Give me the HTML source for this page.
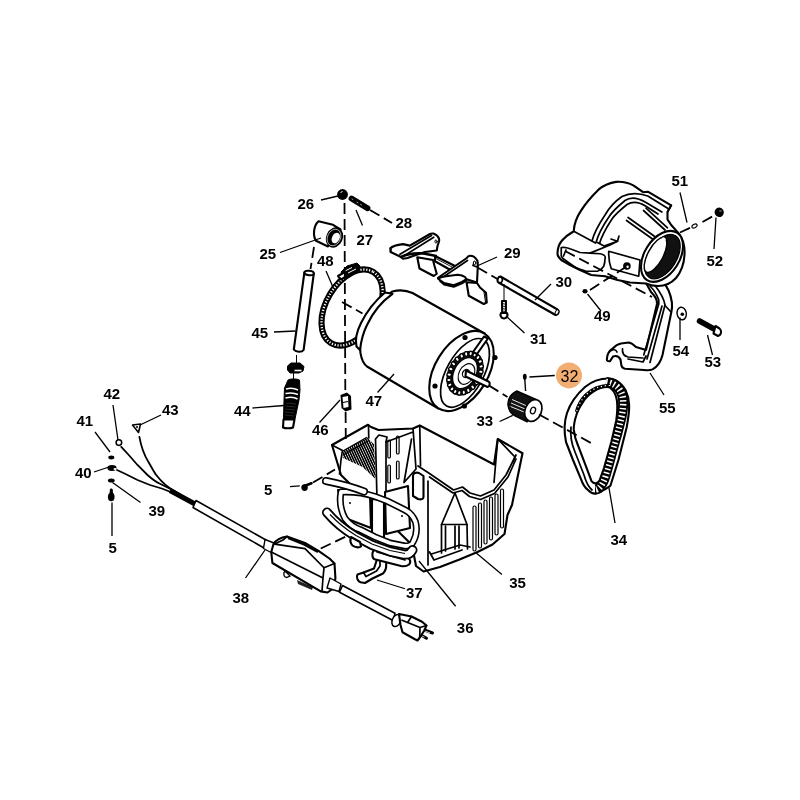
<!DOCTYPE html>
<html><head><meta charset="utf-8"><title>Parts diagram</title>
<style>
html,body{margin:0;padding:0;background:#fff;width:800px;height:800px;overflow:hidden}
svg{display:block}
.lbl{filter:grayscale(1)}
.lbl text{font-family:"Liberation Sans",sans-serif;font-weight:bold;font-size:15px;fill:#000}
.ld{stroke:#000;stroke-width:1.3;fill:none}
.ds{stroke:#000;stroke-width:1.8;fill:none;stroke-dasharray:11 5}
.o{stroke:#000;stroke-width:2.1;fill:#fff;stroke-linejoin:round;stroke-linecap:round}
.l{stroke:#000;stroke-width:1.7;fill:none;stroke-linejoin:round;stroke-linecap:round}
.t{stroke:#000;stroke-width:1;fill:none}
.k{fill:#000;stroke:#000;stroke-width:1}
</style></head><body>
<svg width="800" height="800" viewBox="0 0 800 800">
<rect width="800" height="800" fill="#fff"/>
<!-- 26 nut -->
<circle cx="342.5" cy="194.5" r="5.4" fill="#000"/>
<path d="M340.5 192.5 l2 -1" stroke="#fff" stroke-width="1"/>
<!-- 27 stud -->
<path d="M351.5 198.5 L367.5 208.3" stroke="#000" stroke-width="5.8" stroke-linecap="round"/>
<path d="M352 199 l0.8 0.5 M357 202.3 l1 0.6 M360.5 204.4 l1 0.6" stroke="#fff" stroke-width="0.9" stroke-linecap="round" opacity="0.7"/>
<!-- 25 bushing -->
<path class="o" d="M318.5 221.3 L333 224.8 L340.5 229.5 L328 246.5 L316 240.8 C312.8 236 313.3 226 318.5 221.3 Z"/>
<ellipse cx="334.5" cy="237.5" rx="8.3" ry="10.5" transform="rotate(25 334.5 237.5)" fill="#000"/>
<ellipse cx="335.8" cy="238" rx="3.8" ry="5.6" transform="rotate(25 335.8 238)" fill="#fff"/>
<ellipse cx="334" cy="237.5" rx="6.5" ry="8.6" transform="rotate(25 334 237.5)" fill="none" stroke="#fff" stroke-width="0.6"/>
<!-- 45 rod -->
<path class="o" d="M304.4 272.5 L313.8 273.5 L303.6 350 C302 352.5 296 352.5 293.8 349.5 Z"/>
<ellipse cx="309.1" cy="273" rx="4.7" ry="2.2" class="o" transform="rotate(6 309.1 273)" stroke-width="1.5"/>
<!-- nut under rod -->
<path class="k" d="M287.5 366 L291 363 L300 363 L304 366.5 L303 371 L299 373 L290 373 L287.5 370 Z"/>
<path d="M294.5 370.5 L301.5 370.5" stroke="#fff" stroke-width="1.6"/>
<path class="t" d="M296.5 355 L296.5 363 M293.5 373 L293.5 379" stroke-width="1.3"/>
<!-- 44 strain relief -->
<path class="k" d="M288 380 C290 378.5 297 378.5 299.5 380 L300 390 L299 400 L295 419 L283.5 419 L284 400 L284.5 388 Z"/>
<path d="M286 389 C290 388 295 388.5 298 390 M285.5 393.5 C290 392.5 295 393 298 394.5 M285.5 398 C290 397 295 397.5 297.5 399" stroke="#fff" stroke-width="1.5"/>
<path d="M286 403 L296 404 M285.5 406 L295.5 407 M285.5 409 L295 410 M285 412 L294.5 413 M285 415 L294 416" stroke="#444" stroke-width="0.6"/>
<path class="o" d="M283.5 419.5 L294.5 419.5 L293 427.5 C291 428.5 285 428.5 283 427.5 Z" stroke-width="1.5"/>
<!-- 46 -->
<path d="M340.5 395 L347 392.5 L351 396 L351.5 409.5 L345.5 411.5 L341.5 408 Z" fill="#000"/>
<path d="M342.5 397 L348 396 L348.5 407 L343.5 408 Z" fill="#fff"/>
<path d="M343 402.5 L348 401.5" stroke="#000" stroke-width="1.2"/>
<ellipse cx="352.1" cy="307.5" rx="41.4" ry="25.8" transform="rotate(-59.4 352.1 307.5)" fill="none" stroke="#000" stroke-width="6.2"/>
<ellipse cx="352.1" cy="307.5" rx="41.4" ry="25.8" transform="rotate(-59.4 352.1 307.5)" fill="none" stroke="#fff" stroke-width="2.3" stroke-dasharray="1.2 1.7"/>
<path class="k" d="M341 272 L347 266 L357 263 L360 266 L359 271 L350 276 L344 278 Z"/>
<path d="M345 271 L352 267.5 M348 273 L356 269" stroke="#fff" stroke-width="1"/>
<path class="o" d="M338 276 L344 272.5 L347 276 L341 279.5 Z" stroke-width="1.2"/>
<path class="o" d="M392.5 291.4 C400 289.5 406 290 412.5 293 L484.6 333.5 L438.4 408.5 L367 366.5 C360 361 358.5 346 361 335 C364 318 376 302 392.5 291.4 Z"/>
<path class="o" d="M385 292.5 C376 300 367 311 361 323 C357 331 355 340 356.5 346.5 L360 350 C361 341 363 333 367 325 C372 314 381 302 392.5 293.8 Z" stroke-width="1.6"/>
<ellipse cx="461.5" cy="371.0" rx="44" ry="26.5" transform="rotate(-58.4 461.5 371.0)" class="o"/>
<ellipse cx="465" cy="372.9" rx="37.9" ry="18.4" transform="rotate(-60.9 465 372.9)" class="l"/>
<ellipse cx="465" cy="373.2" rx="23.8" ry="17" transform="rotate(-62 465 373.2)" fill="#111"/>
<ellipse cx="474.8" cy="354.8" rx="2.3" ry="1.7" fill="#fff" stroke="#000" stroke-width="1.3" transform="rotate(-62 474.8 354.8)"/>
<ellipse cx="478.0" cy="357.5" rx="2.3" ry="1.7" fill="#fff" stroke="#000" stroke-width="1.3" transform="rotate(-46 478.0 357.5)"/>
<ellipse cx="480.2" cy="361.5" rx="2.3" ry="1.7" fill="#fff" stroke="#000" stroke-width="1.3" transform="rotate(-29 480.2 361.5)"/>
<ellipse cx="481.1" cy="366.4" rx="2.3" ry="1.7" fill="#fff" stroke="#000" stroke-width="1.3" transform="rotate(-13 481.1 366.4)"/>
<ellipse cx="480.8" cy="371.8" rx="2.3" ry="1.7" fill="#fff" stroke="#000" stroke-width="1.3" transform="rotate(3 480.8 371.8)"/>
<ellipse cx="479.1" cy="377.4" rx="2.3" ry="1.7" fill="#fff" stroke="#000" stroke-width="1.3" transform="rotate(20 479.1 377.4)"/>
<ellipse cx="476.4" cy="382.6" rx="2.3" ry="1.7" fill="#fff" stroke="#000" stroke-width="1.3" transform="rotate(36 476.4 382.6)"/>
<ellipse cx="472.7" cy="387.1" rx="2.3" ry="1.7" fill="#fff" stroke="#000" stroke-width="1.3" transform="rotate(53 472.7 387.1)"/>
<ellipse cx="468.3" cy="390.4" rx="2.3" ry="1.7" fill="#fff" stroke="#000" stroke-width="1.3" transform="rotate(69 468.3 390.4)"/>
<ellipse cx="463.8" cy="392.4" rx="2.3" ry="1.7" fill="#fff" stroke="#000" stroke-width="1.3" transform="rotate(85 463.8 392.4)"/>
<ellipse cx="459.3" cy="392.8" rx="2.3" ry="1.7" fill="#fff" stroke="#000" stroke-width="1.3" transform="rotate(102 459.3 392.8)"/>
<ellipse cx="455.2" cy="391.6" rx="2.3" ry="1.7" fill="#fff" stroke="#000" stroke-width="1.3" transform="rotate(118 455.2 391.6)"/>
<ellipse cx="452.0" cy="388.9" rx="2.3" ry="1.7" fill="#fff" stroke="#000" stroke-width="1.3" transform="rotate(134 452.0 388.9)"/>
<ellipse cx="449.8" cy="384.9" rx="2.3" ry="1.7" fill="#fff" stroke="#000" stroke-width="1.3" transform="rotate(151 449.8 384.9)"/>
<ellipse cx="448.9" cy="380.0" rx="2.3" ry="1.7" fill="#fff" stroke="#000" stroke-width="1.3" transform="rotate(167 448.9 380.0)"/>
<ellipse cx="449.2" cy="374.6" rx="2.3" ry="1.7" fill="#fff" stroke="#000" stroke-width="1.3" transform="rotate(183 449.2 374.6)"/>
<ellipse cx="450.9" cy="369.0" rx="2.3" ry="1.7" fill="#fff" stroke="#000" stroke-width="1.3" transform="rotate(200 450.9 369.0)"/>
<ellipse cx="453.6" cy="363.8" rx="2.3" ry="1.7" fill="#fff" stroke="#000" stroke-width="1.3" transform="rotate(216 453.6 363.8)"/>
<ellipse cx="457.3" cy="359.3" rx="2.3" ry="1.7" fill="#fff" stroke="#000" stroke-width="1.3" transform="rotate(233 457.3 359.3)"/>
<ellipse cx="461.7" cy="356.0" rx="2.3" ry="1.7" fill="#fff" stroke="#000" stroke-width="1.3" transform="rotate(249 461.7 356.0)"/>
<ellipse cx="466.2" cy="354.0" rx="2.3" ry="1.7" fill="#fff" stroke="#000" stroke-width="1.3" transform="rotate(265 466.2 354.0)"/>
<ellipse cx="470.7" cy="353.6" rx="2.3" ry="1.7" fill="#fff" stroke="#000" stroke-width="1.3" transform="rotate(282 470.7 353.6)"/>
<ellipse cx="465" cy="373.2" rx="16.5" ry="11" transform="rotate(-62 465 373.2)" fill="#fff" stroke="#000" stroke-width="1.3"/>
<ellipse cx="466.5" cy="374" rx="11" ry="7.5" transform="rotate(-62 466.5 374)" fill="none" stroke="#000" stroke-width="1.1"/>
<ellipse cx="466" cy="373.5" rx="4.2" ry="3.4" transform="rotate(-62 466 373.5)" fill="#fff" stroke="#000" stroke-width="1.3"/>
<path class="o" d="M466 370.5 L488.5 381.5 C490.5 382.5 490 386.5 487.5 387 L465.5 376.5 Z" stroke-width="1.3"/>
<path class="o" d="M473 352 L484 336.5 L488 338.5 L477 354 Z" stroke-width="1.2"/>
<circle cx="465" cy="337.5" r="2.6" fill="#000"/>
<circle cx="495" cy="357.5" r="2.6" fill="#000"/>
<circle cx="435" cy="386" r="2.6" fill="#000"/>
<circle cx="464.4" cy="406" r="2.6" fill="#000"/>
<!-- 29 bracket -->
<g class="l" stroke-width="1.3">
<path class="o" stroke-width="1.4" d="M417.25 257.25 L419.5 268.5 L433.75 276 L436.75 273.75 L434.5 266 L433 260 Z"/>
<path class="o" stroke-width="1.5" d="M390.25 248.25 C392 246.5 396 245 403 244.1 L409.75 245.6 L430 234 C431 233.5 432 233.3 433.3 233.6 C435 234.2 436.8 235 437.8 236.5 C439 238 439.4 240 439 241.5 L437.5 246 L436.75 250.5 L425 252 L413 256 L407.5 258 L403 258.75 L400 256.5 L390.6 252 Z"/>
<path d="M400 254.25 L431.5 235.5 M403 256.5 L433.75 237.2 M390.6 252 L391 249"/>
<path d="M401 256.8 C406 254.5 412 253 420 253.2 C426 253.6 430 254.5 436 256" stroke-width="2.4"/>
<ellipse cx="436" cy="241.5" rx="1.1" ry="1.6" fill="#fff" stroke="#000" stroke-width="1"/>
<path class="o" stroke-width="1.4" d="M435 256 L457.5 267.25 L456 271.5 L452.25 271 L435 261.25 Z"/>
<path d="M436 258.6 L455 268.6" stroke-width="0.9"/>
<path class="o" stroke-width="1.4" d="M466.5 282.25 L468.75 295.75 L483.75 304 L486.75 302.5 L486 292.75 L480 287.5 L477 283 Z"/>
<path d="M484 292 L485.5 302" stroke-width="1"/>
<path class="o" stroke-width="1.4" d="M438 277.75 L466.5 258.25 C467.5 256.5 469 255.8 470.25 255.8 C472.5 255.8 474.5 256.8 475.5 258.25 C477 259.5 477.8 261 477.75 262.5 L477.75 267.25 L477 282.5 L466.5 279.25 Z"/>
<path d="M441 278.5 L467.5 260.5 M474.5 261.5 L473 265.5 L477.75 267.25"/>
<ellipse cx="474.6" cy="263" rx="1.3" ry="1.7" fill="#fff" stroke="#000" stroke-width="1"/>
<path class="o" stroke-width="1.5" d="M438 278.5 C441 277 443.5 276.5 446.25 276.25 L457.5 274.75 C461 275 463.5 275.8 465 277 L466.5 279.25 L462 282 L453.75 285.25 L444 283 L438.75 279.25 Z"/>
<path d="M440 281 L444 284.5 L453.75 286.8 L462 283.5 L466.5 280.5" stroke-width="1.8"/>
</g>
<!-- 30 pin -->
<path class="o" d="M500.5 276.5 L557.5 309.5 C559.5 311 558.5 315.5 555.5 315 L498.5 282.5 C496.5 281 498 276 500.5 276.5 Z" stroke-width="1.4"/>
<ellipse cx="557" cy="312.3" rx="1.6" ry="2.6" transform="rotate(30 557 312.3)" fill="#fff" stroke="#000" stroke-width="1"/>
<path class="l" d="M501 277 C503 278.5 503 281.5 500.5 283" stroke-width="1.1"/>
<!-- 31 screw -->
<path class="t" d="M504 284 L504 301" stroke-width="1.2"/>
<path class="o" d="M502 301 L506 301 L505.8 313 L502.2 313 Z" stroke-width="1.2"/>
<path d="M502.3 303.5 l3.4 0.8 M502.3 306 l3.4 0.8 M502.3 308.5 l3.4 0.8 M502.3 311 l3.4 0.8" stroke="#000" stroke-width="0.8"/>
<path class="o" d="M501 313 L507 313 C508 315 507.5 318 504 318.5 C500.5 318 500 315 501 313 Z" stroke-width="1.2"/>
<!-- 32 screw -->
<ellipse cx="524.8" cy="376.8" rx="1.9" ry="3.1" fill="#000"/>
<path d="M524.8 379.5 L525.6 391" stroke="#000" stroke-width="1.4"/>
<!-- 33 pulley -->
<path d="M517 391 C511 394 507.5 399 508 405 C508.5 410 511 413.5 514.6 415.6 L527 421.8 L533 410 L536 399.5 Z" fill="#111" stroke="#000" stroke-width="1.5"/>
<path d="M512 399.5 L528 406.5 M511 403 L527.5 410 M510.5 406.5 L526.5 413" stroke="#fff" stroke-width="0.9"/>
<ellipse cx="533.3" cy="410.5" rx="8.2" ry="11.3" transform="rotate(22 533.3 410.5)" fill="#fff" stroke="#000" stroke-width="1.7"/>
<ellipse cx="533" cy="410.5" rx="2.4" ry="3.4" transform="rotate(22 533 410.5)" fill="#fff" stroke="#000" stroke-width="1.3"/>
<!-- 55 arm -->
<path class="o" d="M646 283 L662.5 281.5 C667 286 670.5 293 671.9 302.5 C672.3 306 672 309.5 671.25 312.5 L662.5 355 C661 361 657 367 652.5 369.4 C650 370.5 647 370.5 644 370 L625 368.75 C622.5 368 621.2 366.5 621.2 364 L620.5 359.5 C619 356.5 616 355.5 613 356.5 L610 361.25 C608 361.5 606.5 361 606.9 359 C607 355 609 351 612.5 348.75 C615 346 618 344 621 343.5 L628.75 342.5 C632 343 634 345 636 347 L646 350 L657 304 C657.5 300 655 296 651 292 Z"/>
<path class="l" d="M650 286 C654 290 657 295 658.75 300 L658.75 304 L643.75 355 M655 285.6 C660 292 664 299 665 305 L650 362.5 M662 306 L647 359 M646 356 L643 362 L628 359 M622.5 348.75 C622 353 624 356 628 357 L643 358" stroke-width="1.2"/>
<path class="l" d="M611 350.5 C613 349 616 349.5 617 352 M665 305.5 L671 312" stroke-width="1.1"/>
<!-- 55 housing hood -->
<path class="o" d="M557.5 253.75 C557.5 249 559 244 562 240.5 C565 237 569 234 573.75 231.25 C574 226 576 218 581.2 210.4 C585 204 590 198 598.7 189.4 C603 186 609 183 616.2 181.9 C622 181.5 628 182.5 633.7 185.6 L643.1 192.2 L647.8 191.7 L671.2 205.3 L667.5 211.9 L667.5 219.4 L671.2 225 L678.7 233.4 C683 239 685 247 684.5 255 C684 264 681 272 676 278 C671 283.5 665 286 658 286 C653 286 649 285 646 283.5 L630 282.5 L617.5 280 L605 276.25 L591.25 275 L580 270 L570 265 L561.25 260 C559 258 557.5 256 557.5 253.75 Z"/>
<g class="l" stroke-width="1.25">
<path d="M573.75 231.25 L595.5 243"/>
<path d="M592 241 C594 233 599 224 605 215 C609 208 614 202 622 196.5 C630 192.5 638 192.5 647.8 196 L668 208.5"/>
<path d="M596 242.5 C598 235 602 227 609.2 216.5 C612 212 616 208 625 200.5 C630 197 637 197 646 202.5 L661.9 212"/>
<path d="M599.5 243.5 C601.5 236.5 605.5 229 612 219 C615 214.5 619 211 627 204.5 C632 201.5 638 201.5 645.5 206 L658 214"/>
<path d="M628.1 217.5 L654.4 236.2 M626.5 220.5 L652.5 239 M646 208.1 L667.5 227.8 M643.5 210.5 L665 230"/>
<path d="M597.5 242.5 L604 246 L617.5 241.25 M611 239 L617.5 241.25 L619 236"/>
<path d="M561.25 247.5 C564 247 567 247.5 570 248.75 L580 252.5 L590 253.1 L600 253.75 C604 254.5 606 256 605 258.75 C605 262 604.5 264 603.75 266.25 C602 269 600 270.5 597.5 271.25 L586.25 271.25 C581 270 577 268.5 573.75 266.25 L565 260 C562 258 561 256.5 561.25 255 Z"/>
<path d="M566 250 L563.5 256 M590 253.1 L610 245 L617.5 241.25"/>
<path d="M608.75 251.25 L640 260 L638.75 276.25 L611.25 268.75 C609.5 264 608.5 258 608.75 251.25 Z"/>
<path d="M671.2 205.3 L667.5 211.9"/>
</g>
<ellipse cx="662" cy="256.4" rx="28" ry="17.5" transform="rotate(-57.7 662 256.4)" class="o"/>
<ellipse cx="662.4" cy="256.6" rx="24.6" ry="14.2" transform="rotate(-57.7 662.4 256.6)" fill="#111" stroke="#000" stroke-width="1.2"/>
<ellipse cx="655.5" cy="254.9" rx="19.4" ry="7.6" transform="rotate(-62 655.5 254.9)" fill="#fff" stroke="#000" stroke-width="1.4"/>
<ellipse cx="664" cy="238.8" rx="2" ry="1.2" transform="rotate(30 664 238.8)" fill="#fff"/>
<circle cx="626.9" cy="266" r="3.8" fill="#000"/>
<circle cx="627.6" cy="266.8" r="1.2" fill="#fff"/>
<!-- 49 -->
<ellipse cx="585" cy="291.2" rx="2.6" ry="2.2" fill="#000"/>
<!-- 51 -->
<ellipse cx="694.5" cy="226" rx="2.8" ry="1.7" transform="rotate(-30 694.5 226)" fill="#fff" stroke="#000" stroke-width="1.1"/>
<!-- 52 -->
<ellipse cx="719.2" cy="212.3" rx="4.6" ry="4.8" transform="rotate(-30 719.2 212.3)" fill="#000"/>
<ellipse cx="720.5" cy="211" rx="1.5" ry="1" fill="#555"/>
<!-- 54 -->
<ellipse cx="681.7" cy="313.5" rx="4.6" ry="6.3" transform="rotate(-10 681.7 313.5)" fill="#fff" stroke="#000" stroke-width="1.4"/>
<circle cx="682.3" cy="314.3" r="1.8" fill="#000"/>
<!-- 53 -->
<path d="M699.5 321 L715 329.5" stroke="#000" stroke-width="5.5" stroke-linecap="round"/>
<path class="o" d="M715.5 326 L719.5 328.5 C722 330.5 721.5 335 718 336 L713.5 333.5 Z" stroke-width="1.3"/>
<!-- 34 belt -->
<path class="o" d="M608.8 378.5 C600 378.5 592 381 585 387 C576 395 570 404 567 413 C564 422 564 432 566 442 L573 460 L581.1 479.3 C583 485 585.5 488 588 490 C591 493 593.5 494 596 493.5 C599 493 602 491.5 604.5 489.5 C607 488 609 487 610.4 485.8 L618.5 459.8 L626.7 427.3 C628 420 629.5 412 629.1 404.5 C628.8 398 627.5 394 625.5 390 C623 386 619.5 382.5 616 380.5 C613.5 379 611 378.5 608.8 378.5 Z"/>
<path id="tb" d="M606 382 C610 382.5 614 384 617.5 387 C620.5 390 622.5 394 623 399 C623.5 404 623 410 621.5 417 L617.5 433 L613.5 447 L609.5 462 L605.5 476 C604 481 602 485 599.5 487.5 C598 489 596.5 489.5 595 489.5" fill="none" stroke="#000" stroke-width="10"/>
<path d="M606 382 C610 382.5 614 384 617.5 387 C620.5 390 622.5 394 623 399 C623.5 404 623 410 621.5 417 L617.5 433 L613.5 447 L609.5 462 L605.5 476 C604 481 602 485 599.5 487.5 C598 489 596.5 489.5 595 489.5" fill="none" stroke="#fff" stroke-width="6.5" stroke-dasharray="1.5 2.4"/>
<path class="o" d="M607.5 387 C603 387 598 388.5 594.1 391 C588 395 584.5 399 582.8 402.3 C579 408 577 412 576.3 415.3 C574.5 421 573.5 425 573.8 429.9 C574.5 436 576 441 577.9 445.2 L586 466.3 L591.5 481.2 C593 483 594.5 483.5 595.8 483.3 C597.5 483 598.5 482 599.5 480.6 L604 468 L611.5 441.3 L616.2 420.7 C617.3 413 617.6 406 617 401 C616.2 396 614.5 392 612.3 389.8 C610.8 388 609.2 387 607.5 387 Z" stroke-width="1.4"/>
<path d="M610 385.5 C600 385.5 592 389 586 395 C581 400 578 406 576.5 412" fill="none" stroke="#000" stroke-width="3.4"/>
<path d="M610 385.5 C600 385.5 592 389 586 395 C581 400 578 406 576.5 412" fill="none" stroke="#fff" stroke-width="1.2" stroke-dasharray="1.2 2.8"/>
<path class="l" d="M571 427 C570 436 572 445 575 452 L584 475 C586 482 588.5 487 592 490" stroke-width="1"/>
<!-- 35 base shell -->
<path class="o" d="M332 445 L368 424.75 L371 427 L378.5 430 L413 428.5 L419.75 425.5 L494 464.5 L497.75 439 L522.5 453.25 L518 475 L512 505 L507.5 515 L504.5 534 L492.5 544.5 L477.5 552 L459.5 559.5 L440 567 L423.5 571.5 L416 566 L412 545 L341 475 Z"/>
<g class="l" stroke-width="1.3">
<!-- back wall -->
<path d="M419.75 425.5 L420.5 466 M497.75 439 L494 482.5 M497.75 439 L515 457 L513 462"/>
<path d="M418 466 L429.5 473.5 L453.5 490 L462.5 487 L470 493 L480.5 496 L494 490 L506 475 L513.5 460 L516 455"/>
<path d="M429.5 477 L453 493 L462 490.5 L469.5 496.5 L480.5 499.5 L494.5 493.5 L508 477 L516 459"/>
<!-- triangle -->
<path d="M455 493 L441.5 524.5 L467 524.5 Z"/>
<path d="M441.5 524.5 L441.5 553 M445.5 526 L445.5 551 M455 526 L455 549 M459 526 L459 548 M467 524.5 L467.5 549"/>
<path d="M428 481 L428 565 M431.5 554 L460 545 L470 547 M434 560 L462 550 M429.5 552 L434 560"/>
<!-- left compartment -->
<path d="M332 445 L342.5 450.4 L341 460 L339.5 474 M368.5 425 L368.75 438"/>
<!-- post -->
<path d="M375.5 439 L377 500 M386 442 L386 500 M375.5 439 L379 435 L387 437 L386 442"/>
<!-- slotted panel -->
<path d="M386 442 L413 432 M413 428.5 L416 469 M411.5 439 L404 482.5 M416 469 L404 482.5"/>
</g>
<!-- slots -->
<g fill="none" stroke="#000" stroke-width="1.2">
<rect x="387.8" y="440" width="2.6" height="18" rx="1.3"/>
<rect x="396.5" y="436" width="2.6" height="18" rx="1.3"/>
<rect x="387.8" y="465" width="2.6" height="18" rx="1.3"/>
<rect x="396.5" y="461" width="2.6" height="18" rx="1.3"/>
</g>
<!-- ribs -->
<g fill="none" stroke="#000" stroke-width="1.2">
<rect x="473" y="506" width="3" height="45" rx="1.5"/>
<rect x="478.5" y="503" width="3" height="45" rx="1.5"/>
<rect x="484" y="500" width="3" height="44" rx="1.5"/>
<rect x="489.5" y="497" width="3" height="43" rx="1.5"/>
<rect x="495" y="494" width="3" height="41" rx="1.5"/>
<rect x="500.5" y="489" width="3" height="39" rx="1.5"/>
</g>
<!-- dark wire hatch -->
<defs><pattern id="hatch" width="2.2" height="2.2" patternUnits="userSpaceOnUse" patternTransform="rotate(-25)"><rect width="2.2" height="2.2" fill="#fff"/><rect width="1.6" height="2.2" fill="#000"/></pattern></defs>
<path d="M342.5 451.25 L367 437.25 L374 444.25 L375.75 479.25 L362.6 467 L343 458 Z" fill="url(#hatch)"/>
<path d="M342.5 451.25 L367 437.25 M343 455 L368 441" stroke="#000" stroke-width="1.4"/>
<!-- right-mid plate -->
<path class="o" d="M413 476 C413 473 416 472 419 473 L423.5 476 L423.5 497 C423.5 499 421 500 418 499 L413 496 Z" stroke-width="1.2"/>
<!-- plate behind handle -->
<path class="o" d="M338 490 L370 494 L371 528 L345 518 Z" stroke-width="1.2"/>
<path class="o" d="M385 492 L408 486 L410 528 L386 534 Z" stroke-width="1.2"/>
<circle cx="350" cy="503" r="1" fill="#000"/><circle cx="402" cy="516" r="1" fill="#000"/>
<!-- post -->
<path class="o" d="M372 499 L384 500 L384 540 L372 538 Z" stroke-width="1.2"/>
<!-- 37 foot -->
<path class="o" d="M357.5 574.5 C356 577 357.5 581 360.5 582.3 L365 583 L372.5 578.5 L383 573.5 C385.5 571 386.3 568 386.2 565 L385.8 548 L376.5 546.5 L376.8 560 L374 568.5 L363.5 572.5 Z" stroke-width="1.6"/>
<path class="l" d="M363.5 572.5 L366 576.5 L376.5 571 L380 566 L380 548" stroke-width="1.1"/>
<!-- 36 handle -->
<path d="M341 492 C339.5 500 340.5 510 345 518.5 C350 525 355 528 360 529.5 L375 537 L390 543 L405 546 C409 546 412 545 413 542 C417 535 417 528 415.5 522 C413 515 409 512 405 510 L387 501 L375 496.5 C365 493 352 491.5 341 492 Z" fill="none" stroke="#000" stroke-width="7" stroke-linecap="round" stroke-linejoin="round"/>
<path d="M341 492 C339.5 500 340.5 510 345 518.5 C350 525 355 528 360 529.5 L375 537 L390 543 L405 546 C409 546 412 545 413 542 C417 535 417 528 415.5 522 C413 515 409 512 405 510 L387 501 L375 496.5 C365 493 352 491.5 341 492 Z" fill="none" stroke="#fff" stroke-width="3.8" stroke-linecap="round" stroke-linejoin="round"/>
<path d="M326 481 C336 483 350 486 364 491.5" fill="none" stroke="#000" stroke-width="8" stroke-linecap="round" stroke-linejoin="round"/>
<path d="M326 481 C336 483 350 486 364 491.5" fill="none" stroke="#fff" stroke-width="4.8" stroke-linecap="round" stroke-linejoin="round"/>
<path class="o" d="M376 549 L406 557 C410 558 411.5 562 409 564.5 C407 566 404 566.5 401 566 L375.5 559.5 C371.5 558.5 371 551 376 549 Z"/>
<path class="l" d="M377 552 L405 560" stroke-width="1.1"/>
<path d="M327 512.5 C335 522 345 530 355 536 L372 545 L390 551.5 L404 554.5 C408 555 411 553 412.5 550" fill="none" stroke="#000" stroke-width="10" stroke-linecap="round" stroke-linejoin="round"/>
<path d="M327 512.5 C335 522 345 530 355 536 L372 545 L390 551.5 L404 554.5 C408 555 411 553 412.5 550" fill="none" stroke="#fff" stroke-width="6.4" stroke-linecap="round" stroke-linejoin="round"/>
<path d="M330 514.5 C338 523 347 530 356 535.5 L372 544 L390 550.5 L405 553.5" fill="none" stroke="#000" stroke-width="1.1"/>
<path class="o" d="M351 537 L360 542 L361 546.5 C359 548 355 547.5 352.5 545.5 C350.5 543.5 350 540 351 537 Z"/>
<!-- wires -->
<g fill="none" stroke="#000" stroke-linecap="round">
<path d="M139.4 436.9 C141 446 144 455 148.75 462.5 C152 468 154 472 156.25 475 C160 480 167 487 175 491.25 L188 499" stroke-width="1.8"/>
<path d="M121.25 446.9 L128.75 455 L137.5 465 L147.5 475 C152 479 156 482 160 483.75 L172.5 490 L188 500" stroke-width="1.8"/>
<path d="M117 470 L125 473.75 L137.5 480 L150 485 L162.5 488.75 L175 493.75 L188 501.5" stroke-width="1.8"/>
</g>
<!-- terminals -->
<circle cx="118.9" cy="442.6" r="2.8" fill="#fff" stroke="#000" stroke-width="1.5"/>
<path d="M132.5 425 L140.5 424 L138.5 432.5 Z" fill="#fff" stroke="#000" stroke-width="1.6" stroke-linejoin="round"/>
<circle cx="137" cy="427" r="1" fill="#000"/>
<!-- 41, 40, 39, 5 -->
<ellipse cx="111.3" cy="457.5" rx="3" ry="1.9" fill="#000"/>
<ellipse cx="112" cy="468.1" rx="4.6" ry="3" fill="#000"/>
<ellipse cx="115" cy="469" rx="1.5" ry="1" fill="#fff"/>
<ellipse cx="111.3" cy="480.6" rx="3.4" ry="2" fill="#000"/>
<path d="M109.8 490 C109.8 488 112.8 488 112.8 490 L113 493 C115 494 115 499 113.5 500.5 C112 501.5 110.5 501.5 109 500.5 C107.5 499 107.5 494 109.6 493 Z" fill="#000"/>
<!-- sleeve -->
<path d="M170 490.5 L195 504" stroke="#000" stroke-width="5" stroke-linecap="butt"/>
<!-- cable -->
<path d="M196 500.5 L266 540 L264 548 L193 507.5 Z" fill="#fff" stroke="#000" stroke-width="1.6" stroke-linejoin="round"/>
<path d="M265 539.5 L274 543 L272 553 L263.5 548.5 Z" fill="#fff" stroke="#000" stroke-width="1.4" stroke-linejoin="round"/>
<!-- GFCI box -->
<path d="M285 571 C283 573 283.5 577 286.5 577.5 L290 576 Z" fill="#fff" stroke="#000" stroke-width="1.3"/>
<path d="M297 580 L313 587 L312 590 L298 584 Z" fill="#222"/>
<path class="o" d="M273.5 544 C276 540 280 537.5 287 536.5 L305 543 L318.5 550.9 L329.75 558.75 L334.5 563.5 L335.4 578 L334 588 L327.5 592.5 L320.75 591.4 L272.4 563 L271.25 552 Z" stroke-width="1.9"/>
<path class="l" d="M271.25 552 L323 578 M274.6 544.1 L305 548.6 L324 567.75 L334.5 563.5 M323 578 L324 567.75 M323 578 L322 591 M287 536.5 L283 540 L274.6 544.1" stroke-width="1.2"/>
<path d="M288 538 L304 544.5 L318 552" stroke="#000" stroke-width="2.2" fill="none"/>
<!-- cable to plug -->
<path d="M330 578 L341 584 L339 591.5 L327 588 Z" fill="#fff" stroke="#000" stroke-width="1.4" stroke-linejoin="round"/>
<path d="M342.5 585.5 L395 613.2 L393.5 620.7 L339.5 592.2 Z" fill="#fff" stroke="#000" stroke-width="1.6" stroke-linejoin="round"/>
<ellipse cx="396.5" cy="620.5" rx="4.2" ry="6.3" transform="rotate(25 396.5 620.5)" fill="#fff" stroke="#000" stroke-width="1.5"/>
<!-- plug -->
<path d="M420.5 628.5 L432.5 633 M417.5 633 L426.5 638.25" stroke="#000" stroke-width="3" stroke-linecap="round"/>
<path d="M421.5 629.7 L430 633 M418.5 634.3 L424.5 637.2" stroke="#fff" stroke-width="0.8"/>
<path class="o" d="M399 614 L411.5 616.5 L422 621.75 L426.5 625.5 L424 631 L419.75 637.5 L417.5 640.5 L414.5 639 L402.5 632.25 L400.5 625 Z" stroke-width="1.7"/>
<path class="l" d="M402 620.25 L420 627.5 L419.75 637.5 M411.5 616.5 L407.5 622.5 M420 627.5 L426.5 625.5" stroke-width="1.2"/>
<!-- 5 screw mid -->
<path d="M303 486.5 L311.5 483.3" stroke="#000" stroke-width="2.6" stroke-linecap="round"/>
<ellipse cx="304.6" cy="487.6" rx="3.2" ry="3.4" fill="#000"/>
<g class="lbl"><text x="297.5" y="209.2">26</text><text x="395.5" y="228.2">28</text><text x="356.5" y="244.7">27</text><text x="259.5" y="259.2">25</text><text x="504.0" y="257.7">29</text><text x="317.0" y="266.2">48</text><text x="671.5" y="186.2">51</text><text x="706.5" y="266.2">52</text><text x="555.5" y="287.2">30</text><text x="594.0" y="321.2">49</text><text x="251.5" y="337.7">45</text><text x="530.0" y="344.2">31</text><text x="672.5" y="356.2">54</text><text x="704.5" y="367.2">53</text><text x="103.5" y="399.2">42</text><text x="365.5" y="406.2">47</text><text x="659.0" y="412.7">55</text><text x="162.0" y="414.7">43</text><text x="234.0" y="416.2">44</text><text x="76.5" y="426.2">41</text><text x="476.5" y="426.2">33</text><text x="312.0" y="435.2">46</text><text x="75.0" y="477.7">40</text><text x="264.0" y="495.2">5</text><text x="148.5" y="515.7">39</text><text x="610.5" y="545.2">34</text><text x="108.5" y="553.2">5</text><text x="509.2" y="588.0">35</text><text x="406.0" y="597.7">37</text><text x="232.5" y="603.2">38</text><text x="456.8" y="633.2">36</text></g>
<path class="ld" d="M321 200L338 196M356 210L362.5 225.5M280 252.5L321 238M274 332L295.5 331M326 271L332.5 286M497 257L477 266M551 284L535 300M524.5 333L506 316M529.4 377L554.75 375.5M377.5 392.5L394 374M319.5 422.5L340 400M252.5 408L284 405.5M113 405L118 440M95 432L110 452M161 415L140 425M94 472L109 467M112.5 482.5L140.5 502.5M112 502.5L112 536M290 486.6L299.75 485.9M499.6 421.5L512.75 415.4M609 488L615 523M476.25 553L501.9 574.4M419 561L455.6 606.25M377 580L405 588.75M245.5 578L265 550M680 192.5L687 222.5M716 217.5L714 249M587.5 294L601 311M680 317.5L680 340M707.5 335L712.5 355M650 373L664 395"/>
<path class="ds" d="M344.5 203L345.3 392M345.6 412L345.8 440M314 247L310.5 269M477.5 267.5L497.5 279M342 302L362.5 313.5M489 385.6L507.5 397M539 414.5L591 443M590 290L625 267.5M565 251L652 297M680 232.5L694 226M702.5 222L715 215M313 482.5L335 469.5M320.75 548.5L347 536M370 210L392 223"/>
<circle cx="569" cy="375.4" r="13" fill="#F2AE72"/>
<text style="filter:grayscale(1)" x="560.5" y="382" font-family="Liberation Sans, sans-serif" font-size="16" fill="#000">32</text>
</svg>
</body></html>
